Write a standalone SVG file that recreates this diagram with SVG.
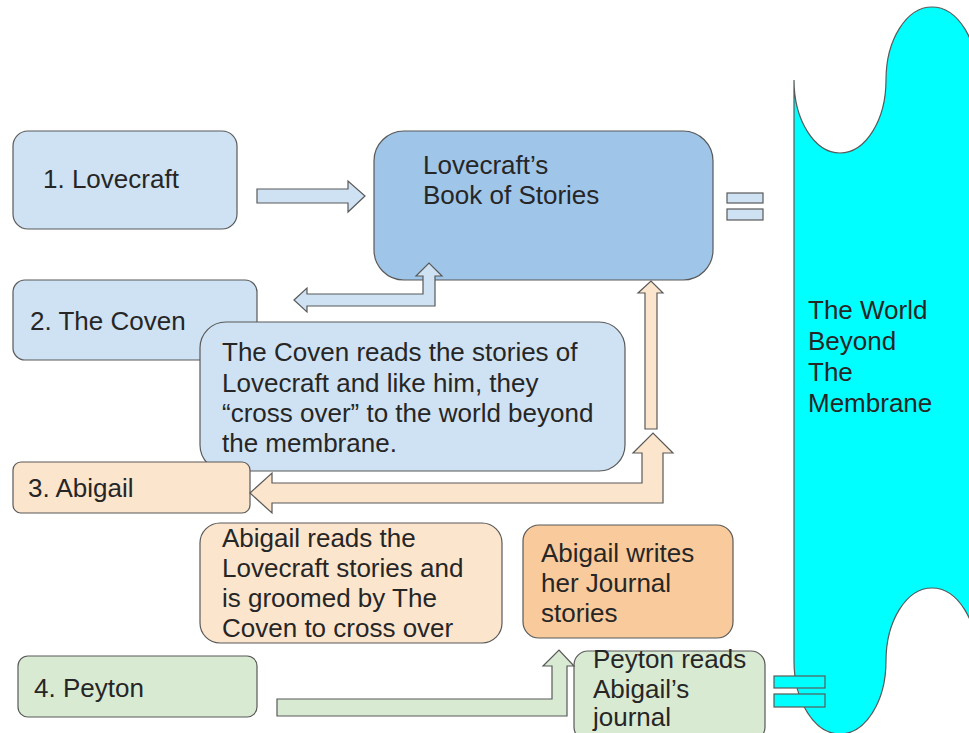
<svg xmlns="http://www.w3.org/2000/svg" width="969" height="733" viewBox="0 0 969 733">
<style>
  text { font-family: "Liberation Sans", Arial, sans-serif; font-size: 26px; fill: #262626; }
  .box { stroke: #595959; stroke-width: 1.2; }
  .arr { stroke: #595959; stroke-width: 1.2; stroke-linejoin: miter; }
  .lb { fill: #cfe2f3; }
  .mb { fill: #9fc5e8; }
  .pe { fill: #fce5cd; }
  .or { fill: #f9cb9c; }
  .gr { fill: #d9ead3; }
  .cy { fill: #00ffff; }
</style>
<rect width="969" height="733" fill="#ffffff"/>

<g id="world">
  <path class="box cy" d="M 794 80 A 46 73 0 0 0 886 80 A 46 73 0 0 1 978 80 L 978 661 A 46 73 0 0 0 886 661 A 46 73 0 0 1 794 661 Z"/>
  <text x="808" y="319">The World</text>
  <text x="808" y="350">Beyond</text>
  <text x="808" y="381">The</text>
  <text x="808" y="412">Membrane</text>
</g>

<g id="lovecraft">
  <rect class="box lb" x="13" y="131" width="224" height="98" rx="15"/>
  <text x="43" y="188">1. Lovecraft</text>
</g>

<g id="book">
  <rect class="box mb" x="374" y="131" width="339" height="149" rx="30"/>
  <text x="423" y="174">Lovecraft’s</text>
  <text x="423" y="204">Book of Stories</text>
</g>

<g id="equals-top">
  <rect class="box lb" x="727" y="193" width="36" height="10"/>
  <rect class="box lb" x="727" y="209" width="36" height="11"/>
</g>

<g id="coven">
  <rect class="box lb" x="13" y="280" width="244" height="80" rx="12"/>
  <text x="30" y="330">2. The Coven</text>
</g>

<g id="coven-note">
  <rect class="box lb" x="200" y="322" width="425" height="149" rx="26"/>
  <text x="222" y="361">The Coven reads the stories of</text>
  <text x="222" y="392">Lovecraft and like him, they</text>
  <text x="222" y="422">“cross over” to the world beyond</text>
  <text x="222" y="452">the membrane.</text>
</g>

<g id="abigail">
  <rect class="box pe" x="13" y="462" width="237" height="51" rx="8"/>
  <text x="28" y="497">3. Abigail</text>
</g>

<g id="abigail-reads">
  <rect class="box pe" x="200" y="523" width="302" height="120" rx="20"/>
  <text x="222" y="547">Abigail reads the</text>
  <text x="222" y="577">Lovecraft stories and</text>
  <text x="222" y="607">is groomed by The</text>
  <text x="222" y="637">Coven to cross over</text>
</g>

<g id="abigail-writes">
  <rect class="box or" x="523" y="525" width="210" height="113" rx="16"/>
  <text x="541" y="562">Abigail writes</text>
  <text x="541" y="592">her Journal</text>
  <text x="541" y="622">stories</text>
</g>

<g id="peyton">
  <rect class="box gr" x="18" y="656" width="239" height="61" rx="10"/>
  <text x="34" y="697">4. Peyton</text>
</g>

<g id="peyton-reads">
  <rect class="box gr" x="574" y="651" width="191" height="90" rx="14"/>
  <text x="593" y="668">Peyton reads</text>
  <text x="593" y="698">Abigail’s</text>
  <text x="593" y="726">journal</text>
</g>

<g id="equals-bottom">
  <rect class="box cy" x="774" y="676" width="51" height="12"/>
  <rect class="box cy" x="774" y="694" width="51" height="13"/>
</g>

<g id="connectors">
  <path class="arr lb" d="M 257 189 L 348 189 L 348 181 L 365 196 L 348 212 L 348 203 L 257 203 Z"/>
  <path class="arr lb" d="M 294 300 L 307 288 L 307 294 L 423 294 L 423 276 L 416 276 L 429 263 L 442 276 L 435 276 L 435 306 L 307 306 L 307 312 Z"/>
  <path class="arr pe" d="M 645 429 L 645 293 L 638 293 L 651 281 L 663 293 L 657 293 L 657 429 Z"/>
  <path class="arr pe" d="M 250 493 L 272 473 L 272 483 L 642 483 L 642 453 L 633 453 L 653 433 L 673 453 L 663 453 L 663 503 L 272 503 L 272 513 Z"/>
  <path class="arr gr" d="M 277 699 L 552 699 L 552 666 L 543 666 L 559 650 L 574 666 L 567 666 L 567 716 L 277 716 Z"/>
</g>
</svg>
